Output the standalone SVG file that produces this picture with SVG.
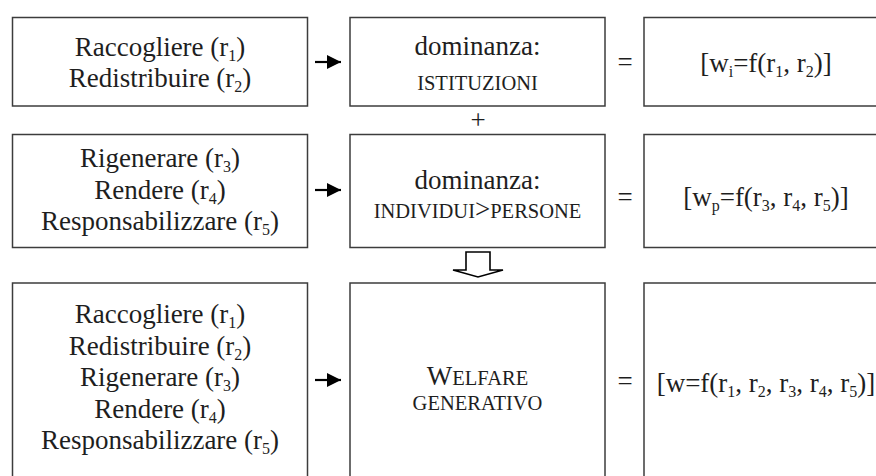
<svg xmlns="http://www.w3.org/2000/svg" width="876" height="476" viewBox="0 0 876 476">
<style>
.box{fill:#fff;stroke:#3c3c3c;stroke-width:1.5}
.t{font-family:"Liberation Serif","Times New Roman",serif;font-size:27px;fill:#1e1e1e;text-anchor:middle}
.sc{font-size:20.5px}
.sub{font-size:16px}
.arr{stroke:#000;stroke-width:2.2;fill:none}
</style>
<defs>
<marker id="head" viewBox="0 0 14 14" refX="14" refY="7" markerWidth="14" markerHeight="14" markerUnits="userSpaceOnUse" orient="auto">
<path d="M0,0 L14,7 L0,14 Z" fill="#000"/>
</marker>
</defs>

<g id="row1-left">
<rect class="box" x="12.5" y="17.5" width="295" height="88.5"/>
<text class="t" x="160" y="56">Raccogliere (r<tspan class="sub" dy="5">1</tspan><tspan dy="-5">)</tspan></text>
<text class="t" x="160" y="87">Redistribuire (r<tspan class="sub" dy="5">2</tspan><tspan dy="-5">)</tspan></text>
</g>
<g id="row1-mid">
<rect class="box" x="350" y="17.5" width="255" height="88.5"/>
<text class="t" x="477.5" y="55">dominanza:</text>
<text class="t sc" x="477.5" y="90">ISTITUZIONI</text>
</g>
<g id="row1-right">
<rect class="box" x="644" y="17.5" width="244" height="88.5"/>
<text class="t" x="766" y="72">[w<tspan class="sub" dy="5">i</tspan><tspan dy="-5">=f(r</tspan><tspan class="sub" dy="5">1</tspan><tspan dy="-5">, r</tspan><tspan class="sub" dy="5">2</tspan><tspan dy="-5">)]</tspan></text>
</g>

<g id="row2-left">
<rect class="box" x="12.5" y="134.5" width="295" height="113"/>
<text class="t" x="160" y="167">Rigenerare (r<tspan class="sub" dy="5">3</tspan><tspan dy="-5">)</tspan></text>
<text class="t" x="160" y="199">Rendere (r<tspan class="sub" dy="5">4</tspan><tspan dy="-5">)</tspan></text>
<text class="t" x="160" y="230">Responsabilizzare (r<tspan class="sub" dy="5">5</tspan><tspan dy="-5">)</tspan></text>
</g>
<g id="row2-mid">
<rect class="box" x="350" y="134.5" width="255" height="113"/>
<text class="t" x="477.5" y="189">dominanza:</text>
<text class="t" x="477.5" y="218"><tspan class="sc">INDIVIDUI</tspan>&gt;<tspan class="sc">PERSONE</tspan></text>
</g>
<g id="row2-right">
<rect class="box" x="644" y="134.5" width="244" height="113"/>
<text class="t" x="766" y="206">[w<tspan class="sub" dy="5">p</tspan><tspan dy="-5">=f(r</tspan><tspan class="sub" dy="5">3</tspan><tspan dy="-5">, r</tspan><tspan class="sub" dy="5">4</tspan><tspan dy="-5">, r</tspan><tspan class="sub" dy="5">5</tspan><tspan dy="-5">)]</tspan></text>
</g>

<g id="row3-left">
<rect class="box" x="12.5" y="283" width="295" height="210"/>
<text class="t" x="160" y="323">Raccogliere (r<tspan class="sub" dy="5">1</tspan><tspan dy="-5">)</tspan></text>
<text class="t" x="160" y="355">Redistribuire (r<tspan class="sub" dy="5">2</tspan><tspan dy="-5">)</tspan></text>
<text class="t" x="160" y="386">Rigenerare (r<tspan class="sub" dy="5">3</tspan><tspan dy="-5">)</tspan></text>
<text class="t" x="160" y="418">Rendere (r<tspan class="sub" dy="5">4</tspan><tspan dy="-5">)</tspan></text>
<text class="t" x="160" y="449">Responsabilizzare (r<tspan class="sub" dy="5">5</tspan><tspan dy="-5">)</tspan></text>
</g>
<g id="row3-mid">
<rect class="box" x="350" y="283" width="255" height="210"/>
<text class="t" x="477.5" y="385">W<tspan class="sc">ELFARE</tspan></text>
<text class="t sc" x="477.5" y="410">GENERATIVO</text>
</g>
<g id="row3-right">
<rect class="box" x="644" y="283" width="244" height="210"/>
<text class="t" x="766" y="392">[w=f(r<tspan class="sub" dy="5">1</tspan><tspan dy="-5">, r</tspan><tspan class="sub" dy="5">2</tspan><tspan dy="-5">, r</tspan><tspan class="sub" dy="5">3</tspan><tspan dy="-5">, r</tspan><tspan class="sub" dy="5">4</tspan><tspan dy="-5">, r</tspan><tspan class="sub" dy="5">5</tspan><tspan dy="-5">)]</tspan></text>
</g>

<g id="connectors">
<line class="arr" x1="315" y1="62" x2="341" y2="62" marker-end="url(#head)"/>
<line class="arr" x1="315" y1="190" x2="341" y2="190" marker-end="url(#head)"/>
<line class="arr" x1="315" y1="380" x2="341" y2="380" marker-end="url(#head)"/>
<text class="t" x="625" y="71">=</text>
<text class="t" x="625" y="206">=</text>
<text class="t" x="625" y="390">=</text>
<text class="t" x="478" y="129">+</text>
<path d="M466,252 H490 V270 H503 L478,277 L453,270 H466 Z" fill="#fff" stroke="#000" stroke-width="1.6" stroke-linejoin="miter"/>
</g>
</svg>
